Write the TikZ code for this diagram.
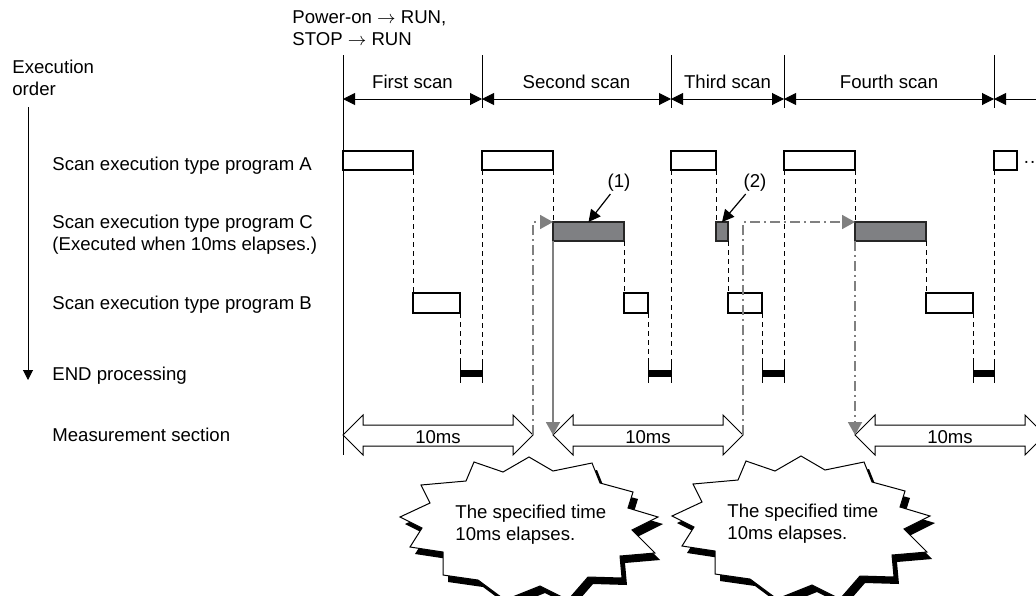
\documentclass[tikz,border=0pt]{standalone}
\usepackage{fontspec}
\setmainfont{Liberation Sans}
\usetikzlibrary{arrows.meta,fit}
\definecolor{midgray}{HTML}{7F8083}
\definecolor{flowgray}{HTML}{808080}
\tikzset{abox/.style={draw,line width=.6pt,fill=white,inner sep=0pt,outer sep=0pt},cbox/.style={draw=black!85,line width=.6pt,fill=midgray,inner sep=0pt,outer sep=0pt},endbar/.style={fill=black,inner sep=0pt,outer sep=0pt},tick/.style={line width=.5pt},link/.style={line width=.5pt,dash pattern=on 2.5pt off 2pt},span/.style={line width=.5pt,{Triangle[length=6pt,width=6pt]}-{Triangle[length=6pt,width=6pt]}},flow/.style={draw=flowgray,line width=.9pt,dash pattern=on 5pt off 2pt on 1pt off 2pt,-{Triangle[length=6.5pt,width=7pt]}},fall/.style={draw=flowgray,line width=.9pt,-{Triangle[length=6.5pt,width=7pt]}},meas/.style={draw,line width=.5pt,fill=white,line join=miter},callout/.style={line width=.6pt,-{Triangle[length=6pt,width=6pt]}},rowlabel/.style={anchor=base west,inner sep=0pt,align=left},shadow/.style={fill=black},burst/.style={draw,line width=.5pt,fill=white}}

\begin{document}
\begin{tikzpicture}[x=0.5pt,y=-0.5pt,font=\fontsize{9.3}{11}\selectfont]
\useasboundingbox (0,0) rectangle (1036,595);
\clip (0,0) rectangle (1036,595);
% left side labels
\node[rowlabel] (exec) at (12,95.3) {Execution\\order};
\coordinate (eo1) at (28,107);
\coordinate (eo2) at (28,380);
\draw[line width=.5pt,-{Triangle[length=5pt,width=5pt]}] (eo1) -- (eo2);
\node[rowlabel] (lA) at (52,170) {Scan execution type program A};
\node[rowlabel] (lC) at (52,250.5) {Scan execution type program C\\(Executed when 10ms elapses.)};
\node[rowlabel] (lB) at (52,309.5) {Scan execution type program B};
\node[rowlabel] (lE) at (52,380.5) {END processing};
\node[rowlabel] (lM) at (52,441.5) {Measurement section};
\node[rowlabel] (pwr) at (292,45.5) {Power-on $\rightarrow$ RUN,\\STOP $\rightarrow$ RUN};
% scans
\coordinate (top0) at (343,55);
\coordinate (bot0) at (343,455);
\draw[tick] (top0) -- (bot0);
\foreach \n/\x in {0/343,1/482,2/671,3/784,4/994}{
\coordinate (s\n) at (\x,99);
\draw[tick] (\x,55) -- (\x,108);
}
\coordinate (s5) at (1045,99);
\foreach \a/\b/\lab in {s0/s1/First scan,s1/s2/Second scan,s2/s3/Third scan,s3/s4/Fourth scan}
\draw[span] (\a) -- (\b) node[midway,anchor=base,yshift=5.5pt] {\lab};
\draw[line width=.5pt,{Triangle[length=6pt,width=6pt]}-] (s4) -- (s5);
% program boxes
\foreach \n/\l/\r in {1/343/413,2/482/553,3/671/716,4/784/855,5/994/1017}
\node[abox,fit={(\l,151)(\r,170)}] (A\n) {};
\node[anchor=base west,inner sep=0pt] (more) at (1023,167) {··};
\foreach \n/\l/\r in {2/553/624,3/716/728,4/855/926}
\node[cbox,fit={(\l,222)(\r,241)}] (C\n) {};
\foreach \n/\l/\r in {1/413/460,2/624/648,3/728/762,4/926/973}
\node[abox,fit={(\l,293)(\r,313)}] (B\n) {};
\foreach \n/\l/\r in {1/460/482,2/648/671,3/762/784,4/973/994}{
\node[endbar,fit={(\l,370)(\r,377)}] (E\n) {};
\draw[tick] ([yshift=3.5pt]E\n.north west) -- ([yshift=-3pt]E\n.south west);
\draw[tick] ([yshift=3.5pt]E\n.north east) -- ([yshift=-3pt]E\n.south east);
}
% execution order links
\draw[link] (A1.south east) -- (B1.north west);
\draw[link] (B1.south east) -- ([yshift=3.5pt]E1.north west);
\foreach \n in {2,3,4}{
\pgfmathtruncatemacro\p{\n-1}
\draw[link] (A\n.south east) -- (C\n.north west);
\draw[link] (C\n.south east) -- (B\n.north west);
\draw[link] (B\n.south east) -- ([yshift=3.5pt]E\n.north west);
\draw[link] (A\n.south west) -- ([yshift=3.5pt]E\p.north east);
}
\draw[link] (A5.south west) -- ([yshift=3.5pt]E4.north east);
% measurement sections
\foreach \k/\a/\b in {1/343/533,2/553/743,3/855/1045}{
\coordinate (ml\k) at (\a,435);
\coordinate (mr\k) at (\b,435);
\path[meas] (\a,435) -- (\a+20,415) -- (\a+20,425) -- (\b-20,425) -- (\b-20,415) -- (\b,435) -- (\b-20,455) -- (\b-20,446) -- (\a+20,446) -- (\a+20,455) -- cycle;
\node (ms\k) at ({(\a+\b)/2},437) {10ms};
}
\draw[flow] (mr1) |- (C2.north west);
\draw[fall] (C2.south west) -- (ml2);
\draw[flow] (mr2) |- (C4.north west);
\draw[flow] (C4.south west) -- (ml3);
% callouts
\node[inner sep=1pt] (n1) at (619,183) {(1)};
\node[inner sep=1pt] (n2) at (755,183) {(2)};
\draw[callout] (n1) -- (C2.north);
\draw[callout] (n2) -- (C3.north);
% elapsed notes
\foreach \k/\dx/\dy in {1/0/0,2/272/-1}{
\begin{scope}[shift={(\dx,\dy)}]
\foreach \sx/\sy/\sty in {5/7/shadow,0/0/burst}
\path[\sty,shift={(\sx,\sy)}] (529,457) -- (553,471) -- (592,463) -- (600,483) -- (633,492) -- (628,508) -- (658,517) -- (632,530) -- (655,553) -- (620,556) -- (622,578) -- (588,577) -- (568,600) -- (540,586) -- (505,600) -- (478,580) -- (443,575) -- (443,552) -- (410,547) -- (422,528) -- (400,517) -- (430,503) -- (421,485) -- (466,481) -- (474,462) -- (503,472) -- cycle;
\node[rowlabel] (note\k) at (455,540.3) {The specified time\\10ms elapses.};
\end{scope}
}
\end{tikzpicture}
\end{document}
